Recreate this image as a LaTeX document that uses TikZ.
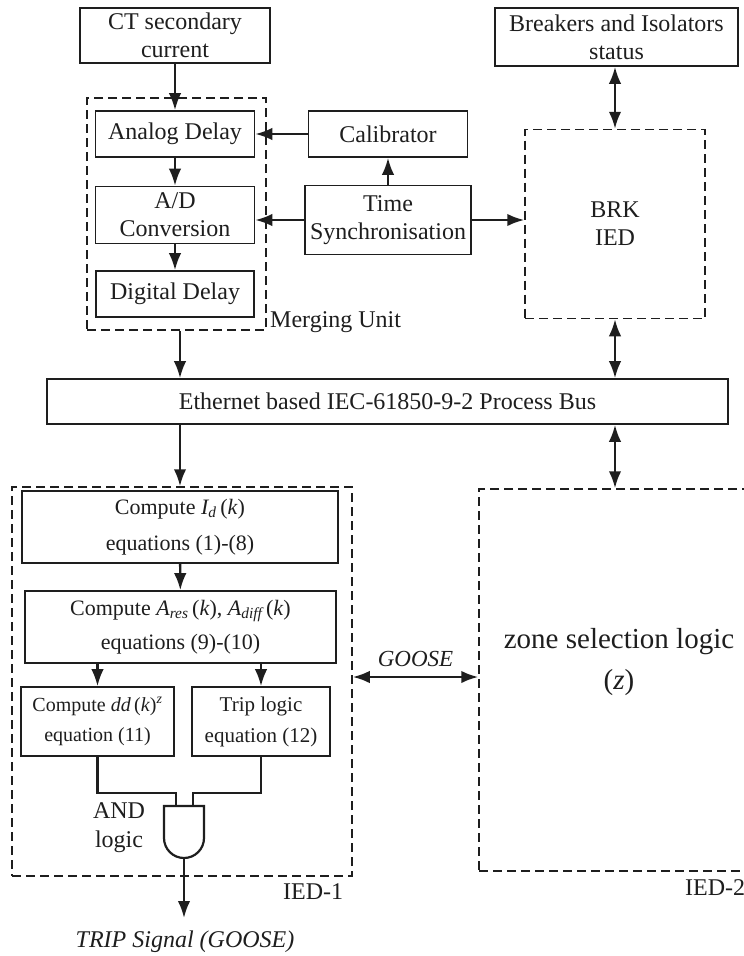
\documentclass[tikz,border=0pt]{standalone}
\usepackage{fontspec}
\setmainfont{Liberation Serif}
\usetikzlibrary{arrows.meta,calc}
\definecolor{ink}{HTML}{1E1E1E}
\begin{document}
\begin{tikzpicture}[x=1pt,y=-1pt,
  every node/.style={text=ink},
  box/.style={draw=ink, line width=1.6pt, inner sep=0pt, align=center,
    font=\fontsize{24}{28}\selectfont},
  group/.style={draw=ink, line width=1.5pt, dash pattern=on 9pt off 5pt, inner sep=0pt,
    align=center, font=\fontsize{24}{28}\selectfont},
  lbl/.style={inner sep=0pt, align=center, font=\fontsize{24}{28}\selectfont},
  tip/.tip={Latex[length=17pt,width=12.5pt]},
  arr/.style={draw=ink, line width=2.4pt, -tip},
  darr/.style={draw=ink, line width=2.4pt, tip-tip},
  wire/.style={draw=ink, line width=2.4pt}]
\clip (0,0) rectangle (744,956);
\fill[white] (0,0) rectangle (744,956);

% sources and merging unit
\node[box, minimum width=190pt, minimum height=55pt] (ct) at (175,35.5) {CT secondary\\current};
\node[group, minimum width=179pt, minimum height=232pt] (mu) at (176.5,214) {};
\node[lbl, anchor=west] (mulbl) at (270,322) {Merging Unit};
\node[box, minimum width=159pt, minimum height=46pt] (ana) at (175,134) {Analog Delay};
\node[box, minimum width=159pt, minimum height=57pt] (adc) at (175,215) {A/D\\Conversion};
\node[box, minimum width=158pt, minimum height=46pt] (dig) at (175,294) {Digital Delay};
\node[box, minimum width=159pt, minimum height=46pt] (cal) at (388,134) {Calibrator};
\node[box, minimum width=166pt, minimum height=69pt] (tsync) at (388,220) {Time\\Synchronisation};

% breaker side
\node[box, minimum width=243pt, minimum height=58pt] (bstat) at (616.5,37) {Breakers and Isolators\\status};
\node[group, minimum width=180pt, minimum height=189pt] (brk) at (615,224) {BRK\\IED};

% process bus
\node[box, minimum width=681pt, minimum height=45pt] (bus) at (387.5,401.5) {Ethernet based IEC-61850-9-2 Process Bus};

% IED-1
\node[group, minimum width=340pt, minimum height=389pt] (ied1) at (182,681.5) {};
\node[lbl, anchor=west] (ied1lbl) at (283,892) {IED-1};
\node[box, minimum width=316pt, minimum height=72pt, font=\fontsize{22}{36}\selectfont] (id) at (180,527)
  {Compute {\itshape I}\textsubscript{\itshape d}\,(\textit{k})\\equations (1)-(8)};
\node[box, minimum width=311pt, minimum height=72pt, font=\fontsize{22}{34}\selectfont] (ares) at (180.5,627)
  {Compute {\itshape A}\textsubscript{\itshape res}\,(\textit{k}), {\itshape A}\textsubscript{\itshape diff}\,(\textit{k})\\equations (9)-(10)};
\node[box, minimum width=153pt, minimum height=69pt, font=\fontsize{20}{30}\selectfont] (dd) at (97.5,721.5)
  {Compute \textit{dd}\,(\textit{k})\textsuperscript{\itshape z}\\equation (11)};
\node[box, minimum width=138pt, minimum height=69pt, font=\fontsize{21}{31}\selectfont] (trip) at (261,721.5)
  {Trip logic\\equation (12)};
\node[lbl, font=\fontsize{24}{29}\selectfont] (andlbl) at (119,827.5) {AND\\logic};

% AND gate
\draw[draw=ink, line width=2.2pt, fill=white] (164,806) -- (204,806) -- (204,838) arc (0:180:20) -- cycle;
\coordinate (gin1) at (176,806);
\coordinate (gin2) at (193,806);
\coordinate (gout) at (184,858);
\coordinate (tripend) at (184,918);
\node[lbl, font=\fontsize{24}{28}\selectfont\itshape] (tripsig) at (185,942) {TRIP Signal (GOOSE)};

% IED-2
\node[group, minimum width=281pt, minimum height=382pt] (ied2) at (619.5,680) {};
\node[lbl, font=\fontsize{29}{41}\selectfont] (zone) at (619,662.5) {zone selection logic\\(\textit{z})};
\node[lbl, anchor=west] (ied2lbl) at (685,888) {IED-2};

% connectors
\draw[arr] (ct) -- (ana);
\draw[arr] (ana) -- (adc);
\draw[arr] (adc) -- (dig);
\draw[arr] (cal) -- (ana);
\draw[arr] (tsync.west) -- (tsync.west -| adc.east);
\draw[arr] (tsync) -- (cal);
\draw[arr] (tsync.east) -- (tsync.east -| brk.west);
\draw[darr] (bstat.south -| brk.north) -- (brk.north);
\draw[darr] (brk.south) -- (brk.south |- bus.north);
\draw[darr] (bus.south -| brk.south) -- (ied2.north -| brk.south);
\draw[arr] (mu.south -| id.north) -- (bus.north -| id.north);
\draw[arr] (bus.south -| id.north) -- (ied1.north -| id.north);
\draw[arr] (id) -- (ares);
\draw[arr] (ares.south -| dd.north) -- (dd.north);
\draw[arr] (ares.south -| trip.north) -- (trip.north);

\coordinate (gy) at (0,677);
\draw[darr] (ied1.east |- gy) -- (ied2.west |- gy)
  node[midway, above=9pt, inner sep=0pt, font=\fontsize{23}{28}\selectfont\itshape] (gooselbl) {GOOSE};

\coordinate (wy) at (0,793);
\draw[wire] (dd.south) -- (dd.south |- wy) -- (gin1 |- wy) -- (gin1);
\draw[wire] (trip.south) -- (trip.south |- wy) -- (gin2 |- wy) -- (gin2);
\draw[arr] (gout) -- (tripend);
\end{tikzpicture}
\end{document}
